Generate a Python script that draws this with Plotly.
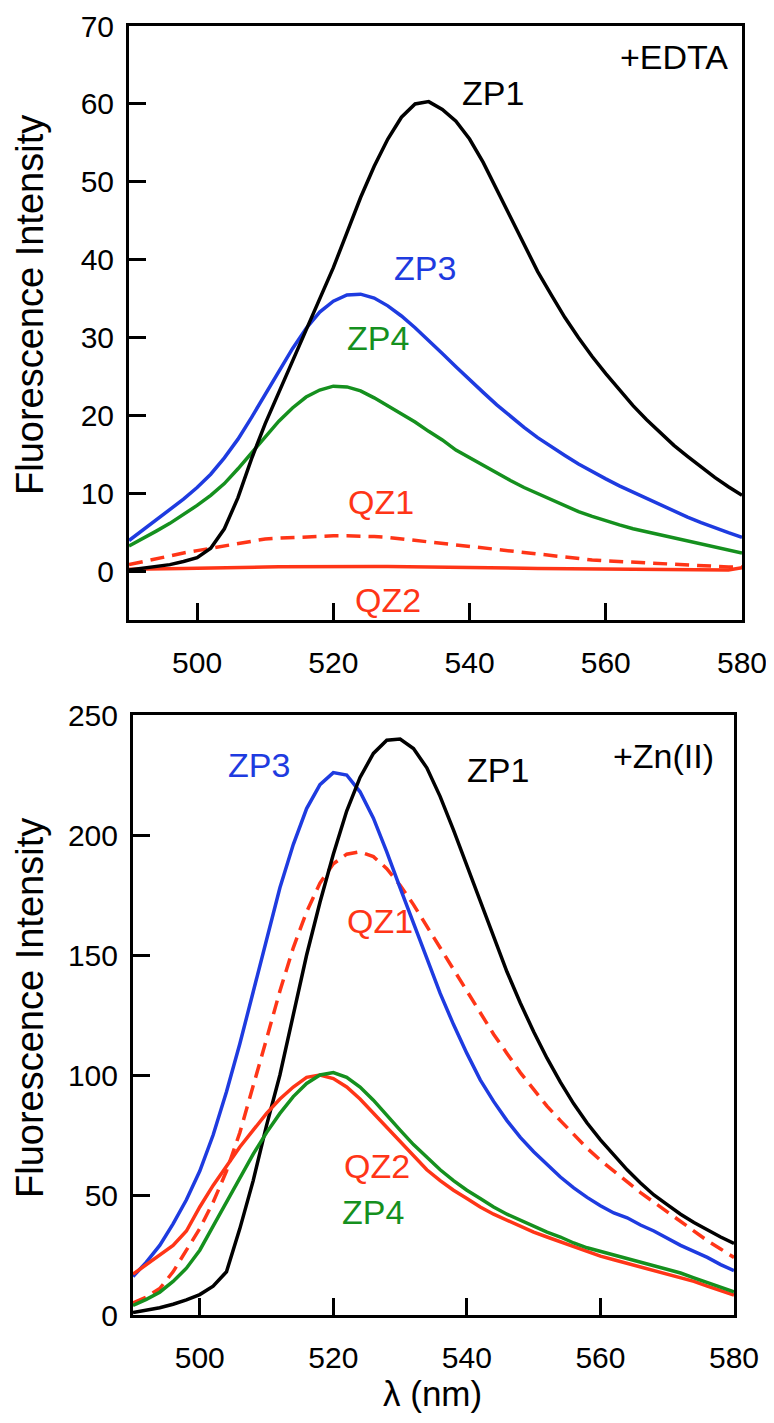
import plotly.graph_objects as go

# wavelength grid (nm)
wl = [490, 492, 494, 496, 498, 500, 502, 504, 506, 508, 510, 512, 514, 516, 518, 520,
      522, 524, 526, 528, 530, 532, 534, 536, 538, 540, 542, 544, 546, 548, 550, 552,
      554, 556, 558, 560, 562, 564, 566, 568, 570, 572, 574, 576, 578, 580]

# +EDTA panel
zp1_edta = [0.2, 0.4, 0.6, 0.9, 1.3, 1.8, 3.0, 5.5, 9.5, 14.5, 19.0, 23.0, 27.0, 31.0, 35.0, 39.0,
            43.5, 48.0, 52.0, 55.5, 58.3, 60.0, 60.3, 59.3, 57.8, 55.5, 52.5, 49.0, 45.5, 42.0, 38.5, 35.5,
            32.6, 30.0, 27.6, 25.4, 23.3, 21.3, 19.5, 17.8, 16.2, 14.8, 13.4, 12.1, 10.9, 9.8]
zp3_edta = [4.0, 5.3, 6.6, 8.0, 9.3, 10.8, 12.5, 14.6, 17.0, 19.8, 22.8, 25.8, 28.6, 31.2, 33.3, 34.7,
            35.5, 35.6, 35.1, 34.1, 32.8, 31.3, 29.7, 28.0, 26.3, 24.6, 23.0, 21.4, 19.9, 18.5, 17.2, 16.0,
            14.9, 13.8, 12.8, 11.9, 11.0, 10.2, 9.3, 8.5, 7.7, 7.0, 6.3, 5.6, 5.0, 4.4]
zp4_edta = [3.3, 4.2, 5.2, 6.2, 7.3, 8.5, 9.8, 11.3, 13.2, 15.2, 17.2, 19.3, 21.0, 22.4, 23.3, 23.8,
            23.7, 23.2, 22.3, 21.3, 20.3, 19.2, 18.0, 16.9, 15.6, 14.6, 13.6, 12.6, 11.7, 10.8, 10.0, 9.2,
            8.4, 7.7, 7.1, 6.5, 6.0, 5.5, 5.1, 4.7, 4.3, 3.9, 3.5, 3.1, 2.7, 2.4]
qz1_edta = [0.9, 1.3, 1.7, 2.1, 2.4, 2.7, 3.0, 3.4, 3.7, 4.0, 4.2, 4.3, 4.4, 4.5, 4.6, 4.6,
            4.6, 4.6, 4.5, 4.4, 4.2, 4.0, 3.8, 3.6, 3.4, 3.2, 3.0, 2.8, 2.6, 2.4, 2.2, 2.0,
            1.9, 1.7, 1.5, 1.4, 1.3, 1.2, 1.1, 1.0, 0.9, 0.8, 0.7, 0.7, 0.6, 0.6]
qz2_edta = [0.3, 0.3, 0.35, 0.4, 0.4, 0.45, 0.5, 0.5, 0.55, 0.6, 0.6, 0.62, 0.64, 0.65, 0.66, 0.67,
            0.67, 0.67, 0.66, 0.65, 0.64, 0.62, 0.6, 0.58, 0.56, 0.54, 0.52, 0.5, 0.48, 0.45, 0.42, 0.4,
            0.38, 0.36, 0.34, 0.32, 0.3, 0.28, 0.27, 0.26, 0.25, 0.24, 0.23, 0.22, 0.22, 0.5]

# +Zn(II) panel
zp1_zn = [1, 2, 3, 4.5, 6.3, 8.5, 12, 18, 36, 56, 79, 100, 125, 150, 172, 192,
          210, 224, 234, 239.5, 240, 236, 228, 216, 202, 187, 172, 157, 143, 130, 118, 107,
          97, 88, 80, 73, 66.5, 60.5, 55, 50, 46, 42, 38.5, 35.3, 32.5, 29.8]
zp3_zn = [16, 22, 29, 38, 48, 60, 75, 93, 113, 135, 157, 178, 196, 211, 221, 226,
          225, 218, 207, 193, 178, 163, 148, 134, 121, 109, 98, 89, 81, 74, 68, 62.5,
          57.5, 53, 49, 45.5, 42.5, 40.5, 37.5, 35, 32, 29, 26.5, 24, 21, 18.5]
qz1_zn = [5, 7.5, 11, 18, 27, 36, 47, 60, 76, 95, 115, 135, 153, 168, 180, 188,
          192, 193, 191, 186, 179, 171, 162, 153, 144, 135, 126, 117, 109, 101, 94, 87,
          81, 75, 69.5, 64.5, 60, 55.5, 51, 47, 43, 39, 35, 31, 27.5, 24]
qz2_zn = [17, 21, 25, 29, 35, 45, 54, 62, 70, 77, 84, 90, 95, 99, 100, 98.5,
          95, 90, 84, 78, 72, 66, 60.5, 56, 52, 48.5, 45, 42, 39.5, 37, 34.5, 32.5,
          30.5, 28.5, 26.5, 24.5, 23, 21.5, 20, 18.5, 17, 15.5, 14, 12, 10, 8.3]
zp4_zn = [4, 6.5, 9.5, 14, 19.5, 27, 37, 47, 57, 67, 76, 84, 91, 96.5, 100, 101,
          99, 95, 89.5, 83, 77, 71, 65.5, 60.5, 56, 52, 48.5, 45, 42, 39.5, 37, 34.5,
          32.5, 30, 28, 26.5, 25, 23.5, 22, 20.5, 19, 17.5, 15.5, 13.5, 11.5, 9.6]

BLACK = "#000000"
BLUE = "#1e3be0"
GREEN = "#15901e"
RED = "#ff3517"
FONT = "Liberation Sans, Arial, sans-serif"

# page is 774x1423, the html body keeps its default 8px margin
OFF = 8
W, H = 774 - 2 * OFF, 1423 - 2 * OFF

fig = go.Figure()


def add(y, color, xa, ya, dash="solid"):
    fig.add_trace(go.Scatter(x=wl, y=y, mode="lines", xaxis=xa, yaxis=ya,
                             line=dict(color=color, width=3.5, dash=dash), showlegend=False))


# top panel
add(qz2_edta, RED, "x", "y")
add(qz1_edta, RED, "x", "y", dash="14px,8px")
add(zp4_edta, GREEN, "x", "y")
add(zp3_edta, BLUE, "x", "y")
add(zp1_edta, BLACK, "x", "y")
# bottom panel
add(qz1_zn, RED, "x2", "y2", dash="14px,8px")
add(zp3_zn, BLUE, "x2", "y2")
add(zp1_zn, BLACK, "x2", "y2")
add(qz2_zn, RED, "x2", "y2")
add(zp4_zn, GREEN, "x2", "y2")


def fx(px):
    return (px - OFF) / W


def fy(py):
    return 1 - (py - OFF) / H


axis_common = dict(showline=True, mirror=True, linecolor="black", linewidth=3,
                   ticks="inside", ticklen=17, tickwidth=3, tickcolor="black",
                   showgrid=False, zeroline=False, automargin=False, ticklabeloverflow="allow",
                   tickfont=dict(family=FONT, size=30, color="black"))

fig.update_layout(
    template="none",
    width=W, height=H,
    margin=dict(l=0, r=0, t=0, b=0, autoexpand=False),
    paper_bgcolor="white", plot_bgcolor="white",
    xaxis=dict(domain=[fx(129), fx(742)], range=[490, 580], tickvals=[500, 520, 540, 560, 580],
               anchor="y", ticklabelstandoff=14, **axis_common),
    yaxis=dict(domain=[fy(620), fy(26)], range=[-6.2, 70], tickvals=[0, 10, 20, 30, 40, 50, 60, 70],
               anchor="x", ticklabelstandoff=6, **axis_common),
    xaxis2=dict(domain=[fx(133), fx(734)], range=[490, 580], tickvals=[500, 520, 540, 560, 580],
                anchor="y2", ticklabelstandoff=14, **axis_common),
    yaxis2=dict(domain=[fy(1315), fy(715)], range=[0, 250], tickvals=[0, 50, 100, 150, 200, 250],
                anchor="x2", ticklabelstandoff=6, **axis_common),
)


def label(text, x, y, color, xref="x", yref="y", size=34, xanchor="center"):
    fig.add_annotation(text=text, x=x, y=y, xref=xref, yref=yref, showarrow=False,
                       xanchor=xanchor, yanchor="middle",
                       font=dict(family=FONT, size=size, color=color))


# top labels
label("+EDTA", 578.3, 66.0, BLACK, xanchor="right")
label("ZP1", 543.5, 61.4, BLACK)
label("ZP3", 533.5, 39.0, BLUE)
label("ZP4", 526.5, 30.0, GREEN)
label("QZ1", 527.0, 9.0, RED)
label("QZ2", 528.0, -3.6, RED)
# bottom labels
label("+Zn(II)", 577.3, 233, BLACK, xref="x2", yref="y2", xanchor="right")
label("ZP1", 544.6, 227, BLACK, xref="x2", yref="y2")
label("ZP3", 508.9, 229, BLUE, xref="x2", yref="y2")
label("QZ1", 527, 164, RED, xref="x2", yref="y2")
label("QZ2", 526.5, 62, RED, xref="x2", yref="y2")
label("ZP4", 526, 43, GREEN, xref="x2", yref="y2")

# axis titles
for yc in (305, 1008):
    fig.add_annotation(text="Fluorescence Intensity", x=fx(30), y=fy(yc), xref="paper", yref="paper",
                       xanchor="center", yanchor="middle", textangle=-90, showarrow=False,
                       font=dict(family=FONT, size=38, color="black"))
fig.add_annotation(text="λ (nm)", x=fx(432), y=fy(1393), xref="paper", yref="paper",
                   xanchor="center", yanchor="middle", showarrow=False,
                   font=dict(family=FONT, size=35, color="black"))

fig.write_html("out.html")
